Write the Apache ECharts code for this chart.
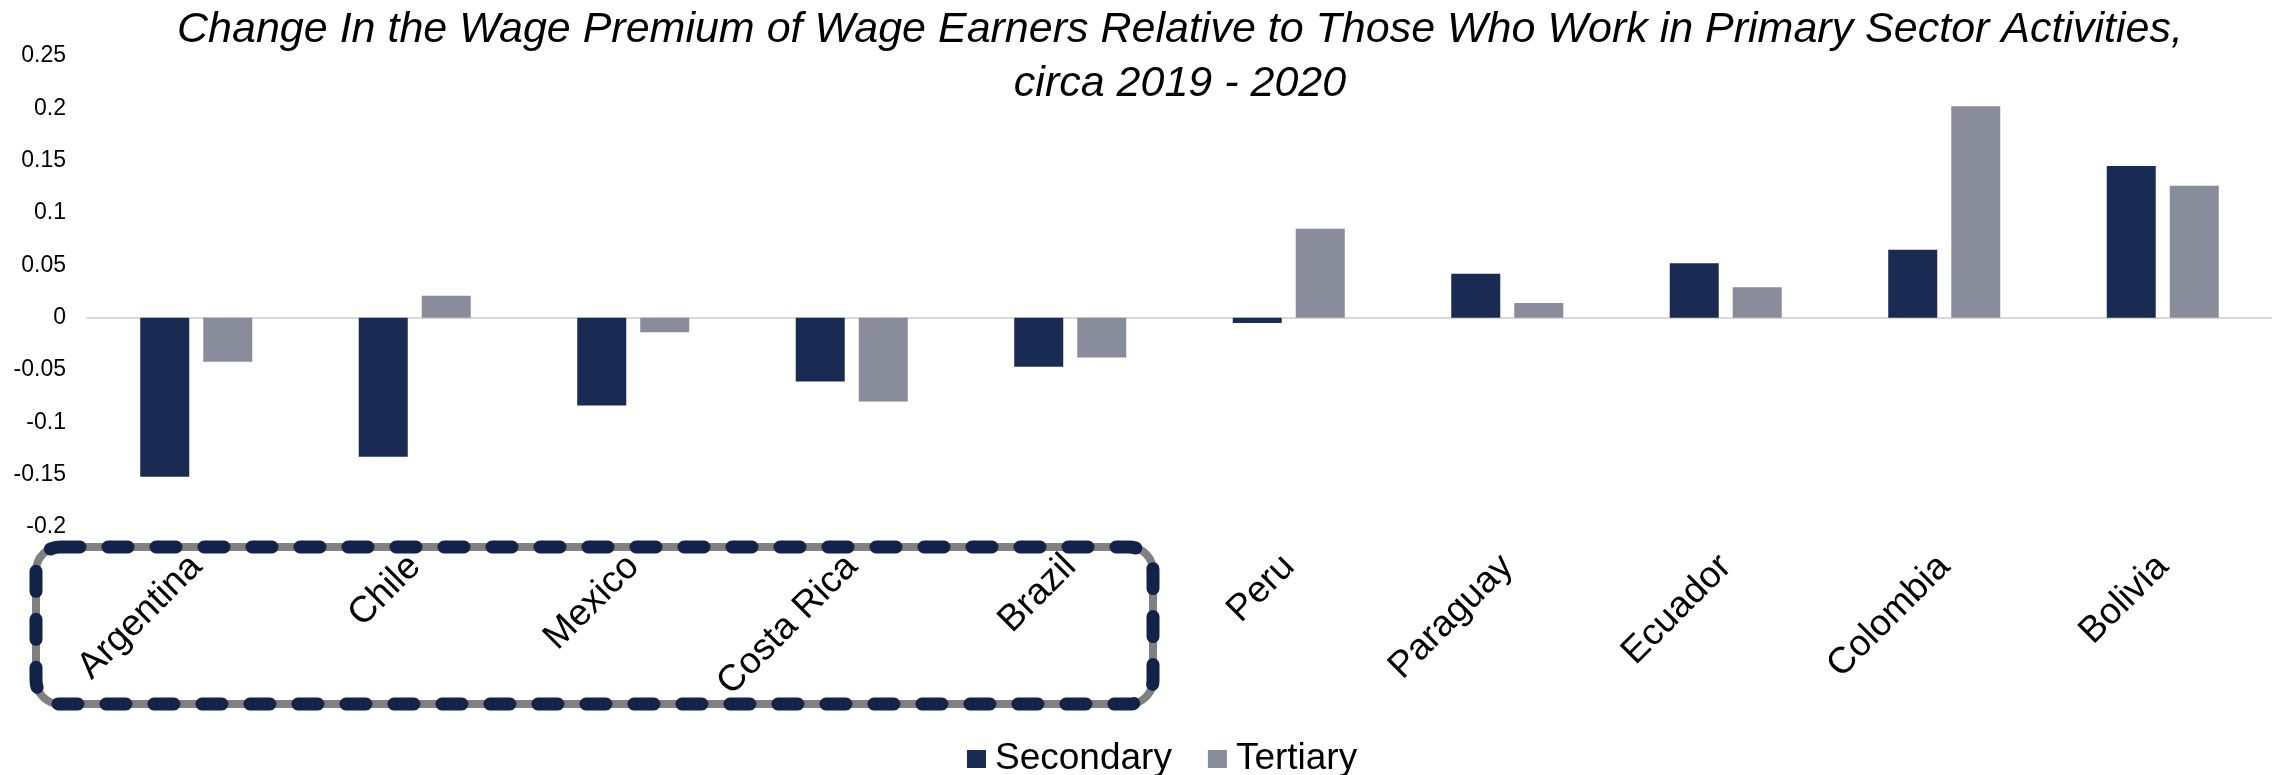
<!DOCTYPE html>
<html>
<head>
<meta charset="utf-8">
<script src="https://cdn.jsdelivr.net/npm/echarts@6/dist/echarts.min.js"></script>
<style>
  html, body { margin: 0; padding: 0; background: #ffffff; }
  #chart { width: 2272px; height: 775px; }
</style>
</head>
<body>
<div id="chart"></div>
<script>
const categories = ["Argentina", "Chile", "Mexico", "Costa Rica", "Brazil", "Peru", "Paraguay", "Ecuador", "Colombia", "Bolivia"];
const secondary = [-0.152, -0.133, -0.084, -0.061, -0.047, -0.005, 0.042, 0.052, 0.065, 0.145];
const tertiary = [-0.042, 0.021, -0.014, -0.080, -0.038, 0.085, 0.014, 0.029, 0.202, 0.126];
const yTicks = { min: -0.2, max: 0.25, step: 0.05 };
const titleLines = [
  "Change In the Wage Premium of Wage Earners Relative to Those Who Work in Primary Sector Activities,",
  "circa 2019 - 2020"
];

const font = "'Liberation Sans', Arial, sans-serif";
const navy = "#1a2b53";
const grey = "#898c9a";

const chart = echarts.init(document.querySelector("#chart"));

chart.setOption({
  animation: false,
  color: [navy, grey],
  textStyle: { fontFamily: font },
  title: {
    text: titleLines.join("\n"),
    left: 1175,
    top: -2,
    textAlign: "center",
    textStyle: {
      fontFamily: font,
      fontSize: 43,
      fontStyle: "italic",
      fontWeight: "normal",
      color: "#000",
      lineHeight: 54
    }
  },
  legend: {
    left: 962,
    top: 735,
    itemWidth: 19,
    itemHeight: 18,
    itemGap: 36,
    icon: "rect",
    textStyle: { fontFamily: font, fontSize: 37, color: "#000", lineHeight: 38, padding: [0, 0, 0, 4] },
    data: ["Secondary", "Tertiary"]
  },
  grid: { left: 87, right: -10, top: 56, bottom: 248, containLabel: false },
  xAxis: [
    {
      type: "category",
      data: categories,
      axisLine: { onZero: true, lineStyle: { color: "#d9d9d9", width: 2 } },
      axisTick: { show: false },
      axisLabel: { show: false }
    },
    {
      type: "category",
      data: categories,
      position: "bottom",
      axisLine: { show: false, onZero: false },
      axisTick: { show: false },
      axisLabel: { interval: 0, rotate: 45, margin: 34, fontSize: 37, color: "#000", fontFamily: font }
    }
  ],
  yAxis: {
    type: "value",
    min: yTicks.min,
    max: yTicks.max,
    interval: yTicks.step,
    axisLine: { show: false },
    axisTick: { show: false },
    splitLine: { show: false },
    axisLabel: {
      margin: 21,
      fontSize: 23,
      color: "#000",
      fontFamily: font,
      formatter: (v) => String(Number(v.toFixed(2)))
    }
  },
  series: [
    { name: "Secondary", type: "bar", xAxisIndex: 0, data: secondary, barWidth: 49, barGap: "28.6%" },
    { name: "Tertiary", type: "bar", xAxisIndex: 0, data: tertiary, barWidth: 49, barGap: "28.6%" }
  ],
  graphic: [
    {
      type: "rect",
      z: 100,
      shape: { x: 36, y: 547, width: 1117, height: 157, r: 24 },
      style: { fill: "none", stroke: "#808080", lineWidth: 8 }
    },
    {
      type: "rect",
      z: 101,
      shape: { x: 36, y: 547, width: 1117, height: 157, r: 24 },
      style: { fill: "none", stroke: "#12234a", lineWidth: 13, lineDash: [20, 28], lineCap: "round" }
    }
  ]
});
</script>
</body>
</html>
